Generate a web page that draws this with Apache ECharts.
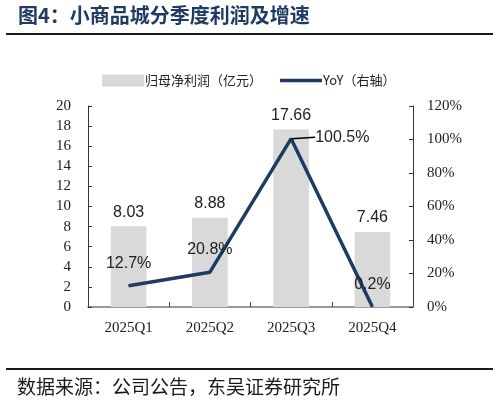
<!DOCTYPE html>
<html>
<head>
<meta charset="utf-8">
<script src="https://cdn.jsdelivr.net/npm/echarts@6/dist/echarts.min.js"></script>
<style>
  html, body { margin: 0; padding: 0; background: #fff; }
  #main { width: 499px; height: 403px; }
</style>
</head>
<body>
<div id="main"></div>
<script>
// 数据
var quarters = ['2025Q1', '2025Q2', '2025Q3', '2025Q4'];
var profit = [8.03, 8.88, 17.66, 7.46];       // 归母净利润（亿元）
var yoy = [12.7, 20.8, 100.5, 0.2];           // YoY（%）

var navy = '#1f3b63';
var cjk = '"Noto Sans CJK SC", sans-serif';
var serif = '"Liberation Serif", "DejaVu Serif", serif';
var sans = '"Liberation Sans", Arial, sans-serif';

var chart = echarts.init(document.getElementById('main'));

/* 只有Q3的标签带引导线 */
var yoyData = yoy.map(function (v, i) {
    return {
        value: v,
        labelLine: { show: i === 2, lineStyle: { color: '#000', width: 1.5 } }
    };
});

var option = {
    animation: false,
    backgroundColor: '#fff',
    graphic: [
        /* 标题 */
        {
            type: 'text', left: 18, top: 5,
            style: { text: '图4：小商品城分季度利润及增速', fill: navy, font: 'bold 20px ' + cjk }
        },
        {
            type: 'rect', shape: { x: 6, y: 33, width: 487, height: 2 },
            style: { fill: '#1a1a1a' }
        },
        /* 来源 */
        {
            type: 'rect', shape: { x: 6, y: 368, width: 487, height: 2 },
            style: { fill: '#1a1a1a' }
        },
        {
            type: 'text', left: 17, top: 377,
            style: { text: '数据来源：公司公告，东吴证券研究所', fill: '#1a1a1a', font: '19px ' + cjk }
        }
    ],
    legend: {
        top: 69,
        left: 97,
        itemGap: 18,
        itemWidth: 42,
        itemHeight: 12,
        textStyle: { fontFamily: cjk, fontSize: 13, color: '#222', padding: [0, 0, 0, -4] },
        data: [
            { name: '归母净利润（亿元）', icon: 'rect' },
            { name: 'YoY（右轴）', icon: 'path://M0,0L42,0L42,3.5L0,3.5Z' }
        ]
    },
    grid: { left: 88, right: 86, top: 106, bottom: 96 },
    xAxis: {
        type: 'category',
        data: quarters,
        axisLine: { lineStyle: { color: '#777', width: 1.5 } },
        axisTick: { show: true, inside: true, length: 5, lineStyle: { color: '#444' } },
        axisLabel: { fontFamily: serif, fontSize: 15, color: '#222', margin: 14 }
    },
    yAxis: [
        {
            type: 'value', min: 0, max: 20, interval: 2,
            splitLine: { show: false },
            axisLine: { show: true, lineStyle: { color: '#333' } },
            axisTick: { show: true, inside: true, length: 4, lineStyle: { color: '#333' } },
            axisLabel: { fontFamily: serif, fontSize: 15, color: '#222', margin: 17 }
        },
        {
            type: 'value', min: 0, max: 120, interval: 20,
            splitLine: { show: false },
            axisLine: { show: true, lineStyle: { color: '#333' } },
            axisTick: { show: true, inside: true, length: 4, lineStyle: { color: '#333' } },
            axisLabel: { fontFamily: serif, fontSize: 15, color: '#222', margin: 14, formatter: '{value}%' }
        }
    ],
    series: [
        {
            name: '归母净利润（亿元）',
            type: 'bar',
            data: profit,
            barWidth: '44%',
            itemStyle: { color: '#d9d9d9' },
            label: {
                show: true, position: 'top', distance: 6,
                fontFamily: sans, fontSize: 16, color: '#222',
                formatter: function (p) { return p.value.toFixed(2); }
            }
        },
        {
            name: 'YoY（右轴）',
            type: 'line',
            yAxisIndex: 1,
            data: yoyData,
            symbol: 'circle',
            symbolSize: 1,
            showSymbol: true,
            z: 5,
            lineStyle: { color: navy, width: 3.5 },
            itemStyle: { color: navy },
            label: {
                show: true, position: 'top', distance: 14,
                fontFamily: sans, fontSize: 16, color: '#222',
                formatter: function (p) { return p.value.toFixed(1) + '%'; }
            },
            labelLine: { show: false },
            labelLayout: function (params) {
                if (params.dataIndex === 2) {
                    return { x: params.rect.x + params.rect.width / 2 + 24, y: params.rect.y + params.rect.height - 2, align: 'left', verticalAlign: 'middle' };
                }
            }
        }
    ]
};

chart.setOption(option);
</script>
</body>
</html>
